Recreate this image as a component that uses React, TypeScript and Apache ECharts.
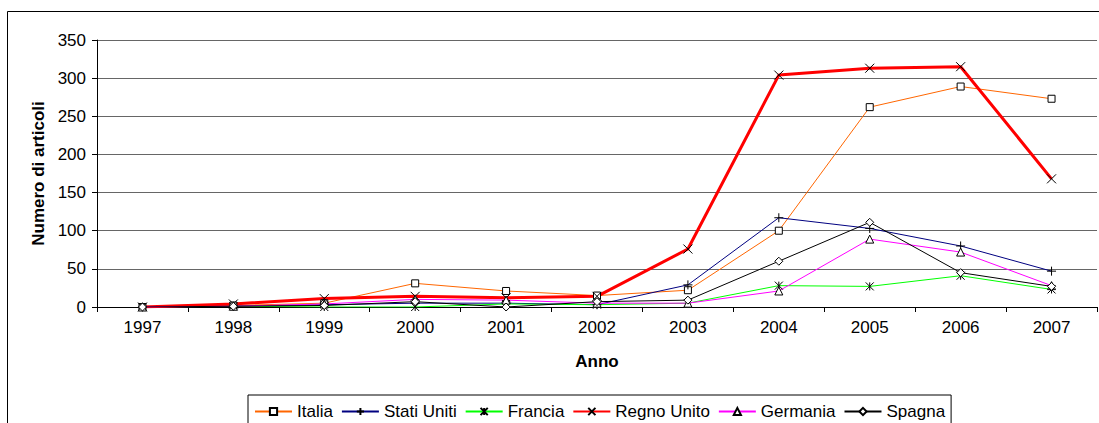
import React, { useEffect, useRef } from "react";
import * as echarts from "echarts";

const years = ["1997", "1998", "1999", "2000", "2001", "2002", "2003", "2004", "2005", "2006", "2007"];
const italia = [0, 2, 5, 31, 21, 15, 22, 100, 262, 289, 273];
const statiUniti = [0, 1, 3, 5, 5, 3, 29, 117, 103, 80, 47];
const francia = [0, 1, 0, 0, 4, 3, 5, 28, 27, 41, 23];
const regnoUnito = [0, 4, 11, 14, 12, 14, 76, 304, 313, 315, 168];
const germania = [0, 1, 4, 10, 9, 5, 5, 21, 89, 72, 28];
const spagna = [0, 1, 2, 7, 0, 7, 9, 60, 111, 45, 27];

const FONT = "'Liberation Sans', Arial, sans-serif";

const PLUS = "path://M0,5L10,5M5,0L5,10";
const CROSS = "path://M0,0L10,10M10,0L0,10";
const STAR = "path://M0,0L10,10M10,0L0,10M5,0L5,10";

function mk(name: string, data: number[], color: string, symbol: string, size: number, width = 1) {
  return {
    name,
    type: "line",
    data,
    symbol,
    symbolSize: size,
    showSymbol: true,
    showAllSymbol: true,
    lineStyle: { color, width },
    itemStyle: { color: "#fff", borderColor: "#000", borderWidth: 1 },
    emphasis: { disabled: true },
  };
}

export default function App() {
  const ref = useRef<HTMLDivElement>(null);
  useEffect(() => {
    if (!ref.current) return;
    const chart = echarts.init(ref.current, null, { renderer: "svg" });
    chart.setOption({
      animation: false,
      backgroundColor: "#fff",
      textStyle: { fontFamily: FONT },
      graphic: [
        {
          type: "rect",
          shape: { x: 7.5, y: 11.5, width: 2000, height: 2000 },
          style: { fill: "none", stroke: "#000", lineWidth: 1 },
          silent: true,
          z: -10,
        },
      ],
      grid: { left: 97, right: 2, top: 40, bottom: 116, containLabel: false },
      legend: {
        left: 248,
        top: 395,
        padding: [8, 6, 10, 6],
        itemGap: 8,
        itemWidth: 37,
        itemHeight: 9,
        borderColor: "#000",
        borderWidth: 1,
        backgroundColor: "#fff",
        selectedMode: false,
        textStyle: { fontSize: 17, color: "#000", fontFamily: FONT },
        data: ["Italia", "Stati Uniti", "Francia", "Regno Unito", "Germania", "Spagna"],
      },
      xAxis: {
        type: "category",
        data: years,
        boundaryGap: true,
        name: "Anno",
        nameLocation: "middle",
        nameGap: 46,
        nameTextStyle: { fontSize: 17, fontWeight: "bold", color: "#000", fontFamily: FONT },
        axisLine: { show: true, lineStyle: { color: "#000", width: 1 } },
        axisTick: { show: true, length: 5, lineStyle: { color: "#000" } },
        axisLabel: { fontSize: 17, color: "#000", margin: 12, fontFamily: FONT },
        splitLine: { show: false },
      },
      yAxis: {
        type: "value",
        min: 0,
        max: 350,
        interval: 50,
        name: "Numero di articoli",
        nameLocation: "middle",
        nameGap: 50,
        nameRotate: 90,
        nameTextStyle: { fontSize: 17, fontWeight: "bold", color: "#000", fontFamily: FONT },
        axisLine: { show: true, lineStyle: { color: "#000", width: 1 } },
        axisTick: { show: true, length: 5, lineStyle: { color: "#000" } },
        axisLabel: { fontSize: 17, color: "#000", margin: 11, fontFamily: FONT },
        splitLine: { show: true, lineStyle: { color: "#666", width: 1 } },
      },
      series: [
        mk("Italia", italia, "#FF6600", "rect", 7),
        mk("Stati Uniti", statiUniti, "#000080", PLUS, 9),
        mk("Francia", francia, "#00FF00", STAR, 8),
        mk("Regno Unito", regnoUnito, "#FF0000", CROSS, 9, 3),
        mk("Germania", germania, "#FF00FF", "triangle", 8),
        mk("Spagna", spagna, "#000000", "diamond", 8),
      ],
    });
    return () => chart.dispose();
  }, []);
  return (
    <div
      ref={ref}
      style={{ position: "absolute", left: 0, top: 0, width: 1099, height: 423 }}
    />
  );
}
